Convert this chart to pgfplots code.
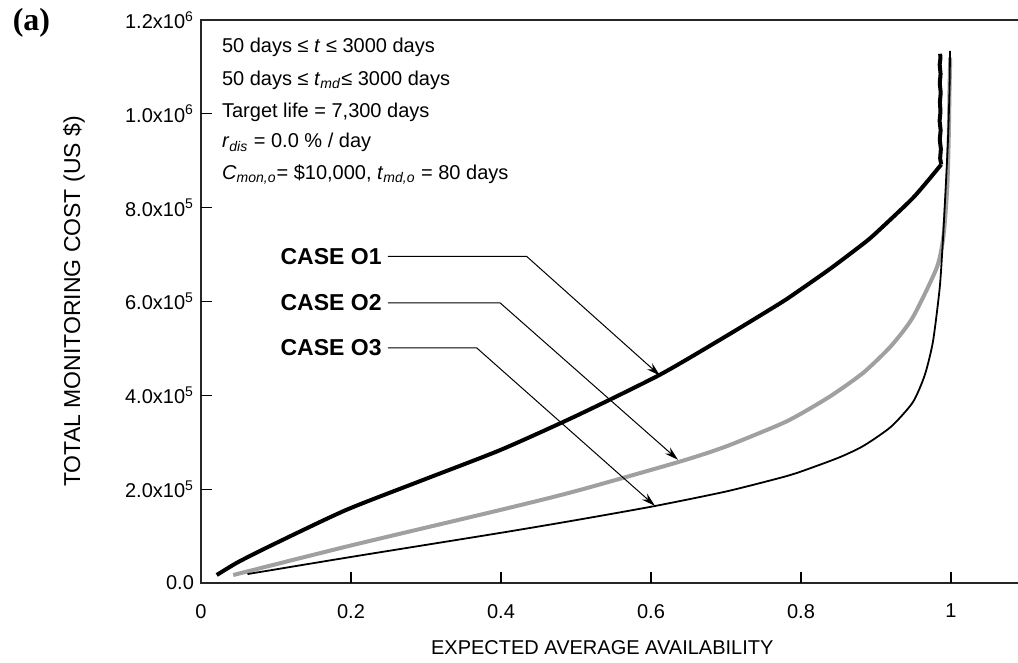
\documentclass[border=0pt]{standalone}
\usepackage{fontspec}
\setmainfont{Liberation Sans}
\newfontfamily\timesfont{Liberation Serif}
\usepackage{pgfplots}
\pgfplotsset{compat=1.18}
\usetikzlibrary{arrows.meta}
\definecolor{grayline}{HTML}{A0A0A0}
\begin{document}
\begin{tikzpicture}
\begin{axis}[
  at={(0,0)}, anchor=south west,
  scale only axis, width=409.5pt, height=281.5pt,
  xmin=0, xmax=1.092, ymin=0, ymax=1200000,
  axis line style={line width=0.8pt, black!85},
  xtick pos=bottom, ytick pos=left,
  tick align=inside, major tick length=0pt,
  xtick={0,0.2,0.4,0.6,0.8,1},
  xticklabels={0,0.2,0.4,0.6,0.8,1},
  xticklabel style={font=\fontsize{10}{12}\selectfont, yshift=-7pt},
  ytick={0,200000,400000,600000,800000,1000000,1200000},
  yticklabels={0.0,
    2.0x10\textsuperscript{5},
    4.0x10\textsuperscript{5},
    6.0x10\textsuperscript{5},
    8.0x10\textsuperscript{5},
    1.0x10\textsuperscript{6},
    1.2x10\textsuperscript{6}},
  yticklabel style={font=\fontsize{10}{12}\selectfont},
  scaled y ticks=false, scaled x ticks=false,
  clip=false,
]
% CASE O1 (smooth part)
\addplot[black, line width=2pt, line join=round, smooth, tension=0.4] coordinates {
 (0.021,17000) (0.05,45000) (0.1,85000) (0.194,156000) (0.3,222000)
 (0.4,284000) (0.5,356000) (0.612,444000) (0.7,526000) (0.772,596000)
 (0.799,625000) (0.84,671000) (0.883,723000) (0.9,746000) (0.95,822000)
 (0.987,892000)
};
% CASE O1 (noisy vertical part)
\addplot[black, line width=2pt, line join=round] coordinates {
 (0.987,892000) (0.9855,905000) (0.9865,925000) (0.985,945000) (0.9862,965000)
 (0.9848,985000) (0.986,1005000) (0.9852,1025000) (0.9863,1045000) (0.985,1065000)
 (0.9861,1085000) (0.9849,1105000) (0.986,1120000) (0.9855,1128000)
};
% CASE O2
\addplot[grayline, line width=2pt, line join=round, smooth, tension=0.4] coordinates {
 (0.043,17000) (0.2,80000) (0.4,156000) (0.5,196000) (0.639,259000)
 (0.7,291000) (0.772,338000) (0.799,360000) (0.84,399000) (0.883,448000)
 (0.92,505000) (0.949,566000) (0.981,672000) (0.99,740000) (0.995,843000)
 (0.997,950000) (0.998,1050000) (0.999,1120000)
};
% CASE O3
\addplot[black, line width=0.9pt, line join=round, smooth, tension=0.4] coordinates {
 (0.062,19000) (0.2,55500) (0.4,107000) (0.5,134000) (0.605,164000)
 (0.7,195000) (0.772,224000) (0.799,237000) (0.85,267000) (0.883,292000)
 (0.92,333000) (0.949,385000) (0.965,443000) (0.976,515000) (0.985,630000)
 (0.989,725000) (0.993,845000) (0.996,946000) (0.998,1050000) (0.9987,1134000)
};
% tick marks (inside)
\draw[line width=0.6pt, black]
  (axis cs:0.2,0) -- ++(0,5.5pt) (axis cs:0.4,0) -- ++(0,5.5pt)
  (axis cs:0.6,0) -- ++(0,5.5pt) (axis cs:0.8,0) -- ++(0,5.5pt)
  (axis cs:1,0) -- ++(0,5.5pt)
  (axis cs:0,200000) -- ++(5.5pt,0) (axis cs:0,400000) -- ++(5.5pt,0)
  (axis cs:0,600000) -- ++(5.5pt,0) (axis cs:0,800000) -- ++(5.5pt,0)
  (axis cs:0,1000000) -- ++(5.5pt,0);
% annotations
\node[anchor=east, inner sep=0pt, font=\bfseries\fontsize{11.5}{13}\selectfont] at (axis cs:0.2413,696000) {CASE O1};
\node[anchor=east, inner sep=0pt, font=\bfseries\fontsize{11.5}{13}\selectfont] at (axis cs:0.2413,597200) {CASE O2};
\node[anchor=east, inner sep=0pt, font=\bfseries\fontsize{11.5}{13}\selectfont] at (axis cs:0.2413,501100) {CASE O3};
\draw[line width=0.5pt, -{Stealth[length=7pt,width=4pt]}] (axis cs:0.2493,696000) -- (axis cs:0.4343,696000) -- (axis cs:0.612,442000);
\draw[line width=0.5pt, -{Stealth[length=7pt,width=4pt]}] (axis cs:0.2493,597200) -- (axis cs:0.3987,597200) -- (axis cs:0.636,262600);
\draw[line width=0.5pt, -{Stealth[length=7pt,width=4pt]}] (axis cs:0.2493,501100) -- (axis cs:0.3676,501100) -- (axis cs:0.6053,164400);
% parameter text
\node[anchor=base west, inner sep=0pt, font=\fontsize{10}{12}\selectfont] at (axis cs:0.0276,1130000) {50 days ≤ \textit{t} ≤ 3000 days};
\node[anchor=base west, inner sep=0pt, font=\fontsize{10}{12}\selectfont] at (axis cs:0.0276,1061000) {50 days ≤ \textit{t}\textsubscript{\textit{md}}≤ 3000 days};
\node[anchor=base west, inner sep=0pt, font=\fontsize{10}{12}\selectfont] at (axis cs:0.0276,992900) {Target life = 7,300 days};
\node[anchor=base west, inner sep=0pt, font=\fontsize{10}{12}\selectfont] at (axis cs:0.0276,927300) {\textit{r}\textsubscript{\textit{dis}} = 0.0 \% / day};
\node[anchor=base west, inner sep=0pt, font=\fontsize{10}{12}\selectfont] at (axis cs:0.0276,860500) {\textit{C}\textsubscript{\textit{mon,o}}= \$10,000, \textit{t}\textsubscript{\textit{md,o}} = 80 days};
% axis labels
\path (rel axis cs:0,0.5) ++(-63.5pt,0) node[rotate=90, font=\fontsize{11.5}{13}\selectfont] {TOTAL MONITORING COST (US \$)};
\path (axis cs:0.535,0) ++(0,-32.5pt) node[font=\fontsize{10}{12}\selectfont] {EXPECTED AVERAGE AVAILABILITY};
\end{axis}
\node[font=\timesfont\bfseries\fontsize{16}{18}\selectfont] at (-84.75pt,280.25pt) {(a)};
\pgfresetboundingbox
\path (-100.5pt,-40pt) rectangle (408.5pt,291.5pt);
\end{tikzpicture}
\end{document}
